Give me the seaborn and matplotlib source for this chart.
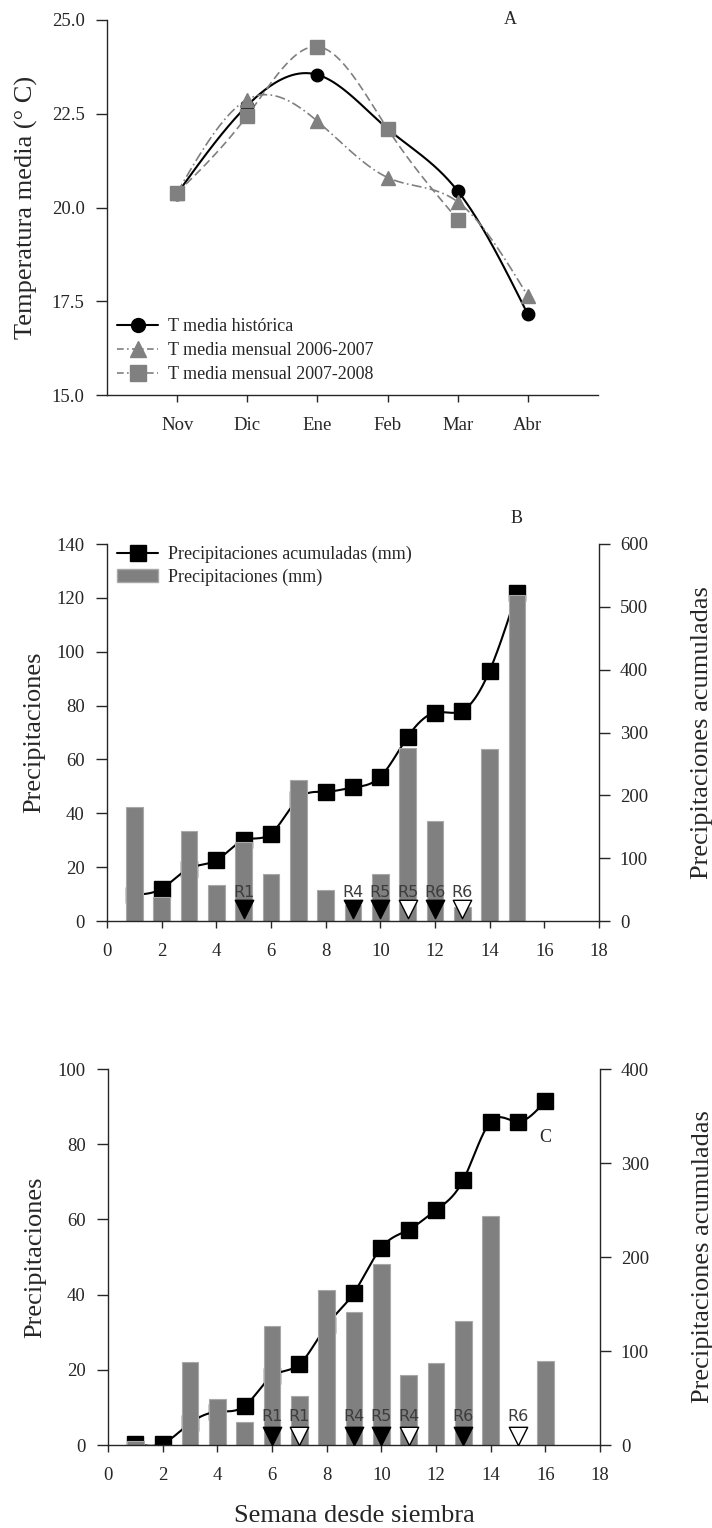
import numpy as np
import pandas as pd
import matplotlib
matplotlib.use("Agg")
import matplotlib.pyplot as plt
import seaborn as sns
from matplotlib.lines import Line2D
from matplotlib.patches import Patch

# ---------------- data ----------------
months = ["Nov", "Dic", "Ene", "Feb", "Mar", "Abr"]
t_hist = [20.37, 22.72, 23.54, 22.10, 20.44, 17.15]
t_0607 = [20.40, 22.88, 22.30, 20.80, 20.15, 17.64]
t_0708 = [20.39, 22.45, 24.29, 22.10, 19.68]

weeks_b = list(range(1, 16))
prec_b = [42.4, 8.9, 33.4, 13.3, 29.3, 17.5, 52.4, 11.4, 6.0, 17.5, 64.1, 37.2, 5.2, 63.7, 121.0]
cum_b = [42.0, 51.5, 83.5, 96.7, 128.6, 139.0, 194.5, 205.6, 212.5, 229.5, 293.0, 331.6, 334.7, 398.5, 522.8]
ev_b_weeks = [5, 9, 10, 11, 12, 13]
ev_b_labels = ["R1", "R4", "R5", "R5", "R6", "R6"]
ev_b_filled = [True, True, True, False, True, False]

weeks_c = list(range(1, 17))
prec_c = [1.0, 0.0, 22.2, 12.2, 6.0, 31.7, 13.0, 41.1, 35.5, 48.1, 18.6, 21.7, 33.0, 61.0, 0.0, 22.4]
cum_c = [1.5, 1.5, 23.2, 35.4, 41.5, 73.1, 85.9, 127.2, 162.0, 210.0, 229.0, 250.0, 282.0, 344.0, 344.0, 366.0]
ev_c_weeks = [6, 7, 9, 10, 11, 13, 15]
ev_c_labels = ["R1", "R1", "R4", "R5", "R4", "R6", "R6"]
ev_c_filled = [True, False, True, True, False, True, False]

# ---------------- style ----------------
sns.set_style("ticks")
plt.rcParams["font.family"] = ["Liberation Serif", "DejaVu Serif"]
plt.rcParams["axes.linewidth"] = 1.0

GRAY = "#808080"
TICK_FS = 13.5
LAB_FS = 19
LEG_FS = 13


def spline(x, y, n=300):
    x = np.asarray(x, float)
    y = np.asarray(y, float)
    k = len(x)
    h = np.diff(x)
    A = np.zeros((k, k))
    r = np.zeros(k)
    A[0, 0] = A[-1, -1] = 1.0
    for i in range(1, k - 1):
        A[i, i - 1] = h[i - 1]
        A[i, i] = 2 * (h[i - 1] + h[i])
        A[i, i + 1] = h[i]
        r[i] = 6 * ((y[i + 1] - y[i]) / h[i] - (y[i] - y[i - 1]) / h[i - 1])
    M = np.linalg.solve(A, r)
    xs = np.linspace(x[0], x[-1], n)
    idx = np.clip(np.searchsorted(x, xs) - 1, 0, k - 2)
    x0, x1 = x[idx], x[idx + 1]
    hh = x1 - x0
    t0, t1 = x1 - xs, xs - x0
    ys = (M[idx] * t0 ** 3 / (6 * hh) + M[idx + 1] * t1 ** 3 / (6 * hh)
          + (y[idx] / hh - M[idx] * hh / 6) * t0 + (y[idx + 1] / hh - M[idx + 1] * hh / 6) * t1)
    return xs, ys


def style_ticks(ax):
    ax.tick_params(axis="y", direction="out", length=8, width=1, pad=8, labelsize=TICK_FS)
    ax.tick_params(axis="x", direction="out", length=5, width=1, pad=11, labelsize=TICK_FS)


W, H = 712, 1528
fig = plt.figure(figsize=(W / 100, H / 100), dpi=100)


def rect(l, t, r, b):
    return [l / W, 1 - b / H, (r - l) / W, (b - t) / H]


def ptext(x, y, s):
    fig.text(x / W, 1 - y / H, s, fontsize=13, ha="center", va="center")


# ---------------- Panel A ----------------
axA = fig.add_axes(rect(107, 20, 598, 395))
mx = np.arange(1, len(months) + 1)

xs, ys = spline(mx, t_hist)
sns.lineplot(x=xs, y=ys, ax=axA, color="black", lw=1.5, sort=False)
xs, ys = spline(mx, t_0607)
sns.lineplot(x=xs, y=ys, ax=axA, color=GRAY, lw=1.2, sort=False, linestyle=(0, (6, 2, 1, 2)))
xs, ys = spline(mx[:len(t_0708)], t_0708)
sns.lineplot(x=xs, y=ys, ax=axA, color=GRAY, lw=1.2, sort=False, linestyle=(0, (5, 2.5)))

axA.plot(mx, t_hist, "o", color="black", ms=9, zorder=4)
axA.plot(mx, t_0607, "^", color=GRAY, ms=10, mec=GRAY, zorder=5)
axA.plot(mx[:len(t_0708)], t_0708, "s", color=GRAY, ms=9.5, mec=GRAY, zorder=6)

axA.set_xlim(0, 7)
axA.set_ylim(15, 25)
axA.set_xticks(mx)
axA.set_xticklabels(months)
axA.set_yticks([15, 17.5, 20, 22.5, 25])
axA.set_yticklabels([f"{v:.1f}" for v in [15, 17.5, 20, 22.5, 25]])
sns.despine(ax=axA)
style_ticks(axA)
axA.set_ylabel("Temperatura media (° C)", fontsize=LAB_FS, labelpad=10)
axA.set_xlabel("")
ptext(510, 20, "A")

hA = [Line2D([], [], color="black", lw=1.5, marker="o", ms=10),
      Line2D([], [], color=GRAY, lw=1.2, linestyle=(0, (4, 2, 1, 2)), marker="^", ms=11),
      Line2D([], [], color=GRAY, lw=1.2, linestyle=(0, (4, 2, 1, 2)), marker="s", ms=11)]
axA.legend(hA, ["T media histórica", "T media mensual 2006-2007", "T media mensual 2007-2008"],
           loc="upper left", bbox_to_anchor=(0.02, 0.205), frameon=False, fontsize=LEG_FS,
           borderpad=0, borderaxespad=0, handlelength=2.3, handletextpad=0.55, labelspacing=0.38)


# ---------------- Panels B and C ----------------
def precip_panel(box, weeks, prec, cum, ylim_l, ylim_r, step_r, ev_w, ev_l, ev_f, tri_y, txt_y):
    ax = fig.add_axes(rect(*box))
    ax2 = ax.twinx()
    ax.set_zorder(ax2.get_zorder() + 1)
    ax.patch.set_visible(False)

    xs, ys = spline(weeks, cum)
    sns.lineplot(x=xs, y=ys, ax=ax2, color="black", lw=1.5, sort=False)
    ax2.plot(weeks, cum, "s", color="black", ms=11, zorder=3)

    df = pd.DataFrame({"w": weeks, "p": prec})
    df = df[df["p"] > 0]
    sns.barplot(data=df, x="w", y="p", native_scale=True, width=0.62, color=GRAY,
                saturation=1, edgecolor="#a8a8a8", linewidth=0.8, ax=ax)

    for w, lab, f in zip(ev_w, ev_l, ev_f):
        sns.scatterplot(x=[w], y=[tri_y], marker="v", s=175, color="black" if f else "white",
                        edgecolor="black", linewidth=1.0, ax=ax, zorder=5)
        ax.text(w, txt_y, lab, ha="center", va="center", fontsize=11.5,
                family="DejaVu Sans", color="#3c3c3c", zorder=6)

    ax.set_xlim(0, 18)
    ax.set_xticks(range(0, 19, 2))
    ax.set_xticklabels([str(v) for v in range(0, 19, 2)])
    ax.set_ylim(*ylim_l)
    ax.set_yticks(range(ylim_l[0], ylim_l[1] + 1, 20))
    ax2.set_ylim(*ylim_r)
    ax2.set_yticks(range(ylim_r[0], ylim_r[1] + 1, step_r))
    ax.set_xlabel("")
    ax.set_ylabel("Precipitaciones", fontsize=LAB_FS, labelpad=8)
    ax2.set_ylabel("Precipitaciones acumuladas", fontsize=LAB_FS, labelpad=31)
    for s in ["top", "right"]:
        ax.spines[s].set_visible(False)
    for s in ["top", "left", "bottom"]:
        ax2.spines[s].set_visible(False)
    style_ticks(ax)
    ax2.tick_params(axis="y", direction="out", length=8, width=1, pad=7, labelsize=TICK_FS)
    return ax, ax2


axB, axB2 = precip_panel((107, 544, 599, 921), weeks_b, prec_b, cum_b, (0, 140), (0, 600), 100,
                         ev_b_weeks, ev_b_labels, ev_b_filled, 4.5, 10.5)
ptext(517, 518, "B")
hB = [Line2D([], [], color="black", lw=1.5, marker="s", ms=11),
      Patch(facecolor=GRAY, edgecolor="#a8a8a8")]
axB.legend(hB, ["Precipitaciones acumuladas (mm)", "Precipitaciones (mm)"],
           loc="upper left", bbox_to_anchor=(0.02, 0.995), frameon=False, fontsize=LEG_FS,
           borderpad=0, borderaxespad=0, handlelength=2.3, handletextpad=0.55, labelspacing=0.3)

axC, axC2 = precip_panel((108, 1069, 600, 1445), weeks_c, prec_c, cum_c, (0, 100), (0, 400), 100,
                         ev_c_weeks, ev_c_labels, ev_c_filled, 2.5, 7.5)
ptext(545, 1137, "C")
axC.set_xlabel("Semana desde siembra", fontsize=LAB_FS, labelpad=15)

fig.savefig("out.png", dpi=100)
